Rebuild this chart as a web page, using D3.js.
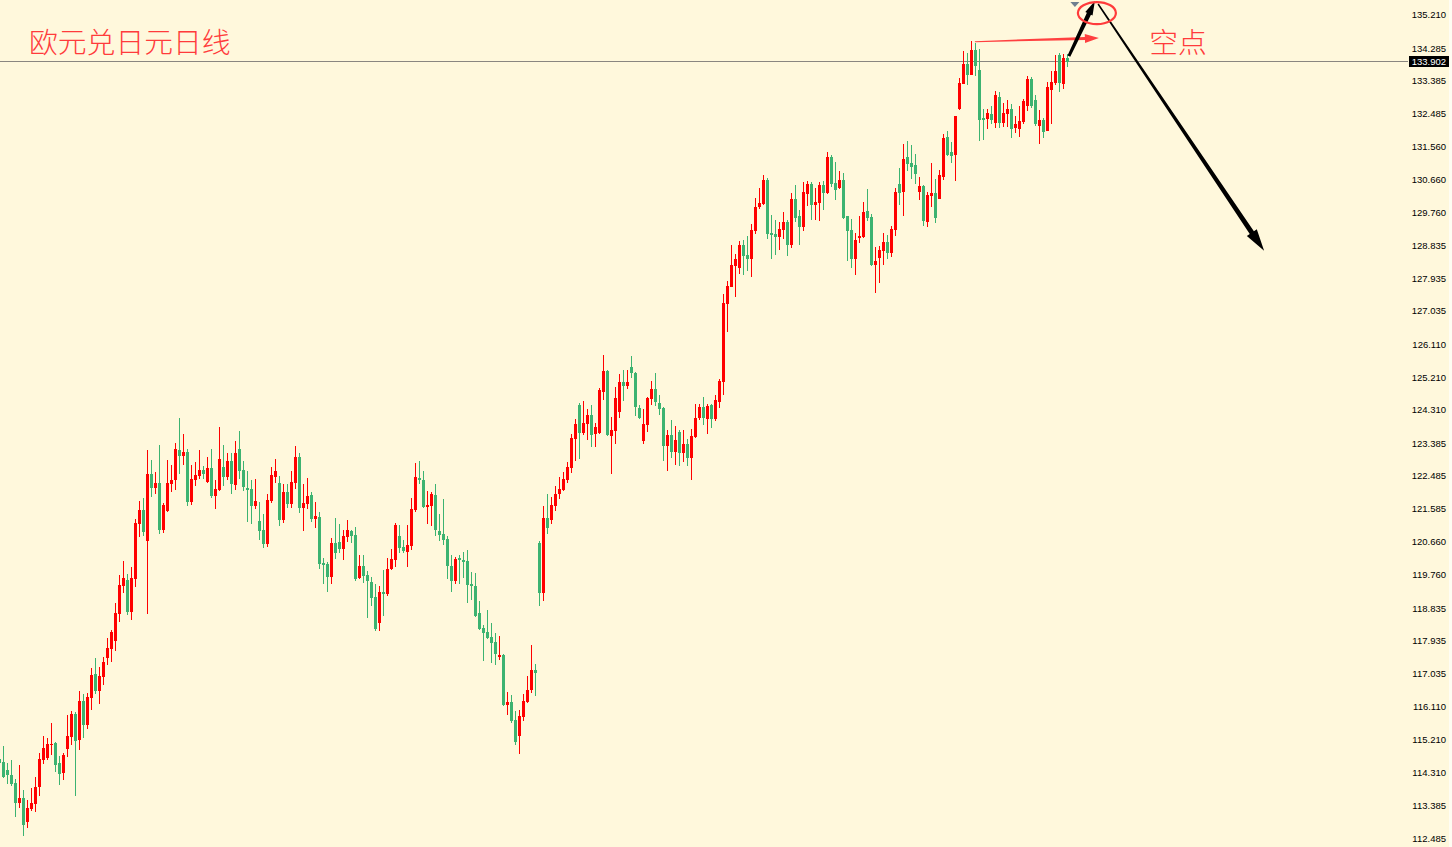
<!DOCTYPE html>
<html><head><meta charset="utf-8">
<script src="https://cdn.jsdelivr.net/npm/d3@7"></script>
<style>html,body{margin:0;padding:0;background:#fff8dc;overflow:hidden}svg{display:block}</style>
</head><body>
<svg id="chart" width="1452" height="847"></svg>
<script>
const title = "欧元兑日元日线";
const noteLabel = "空点";
const lastPrice = 133.902;
const tickValues = [135.210,134.285,133.385,132.485,131.560,130.660,129.760,128.835,127.935,127.035,126.110,125.210,124.310,123.385,122.485,121.585,120.660,119.760,118.835,117.935,117.035,116.110,115.210,114.310,113.385,112.485];

const open = [114.67,114.58,114.37,114.23,114.01,113.46,113.60,112.93,113.29,113.43,113.90,114.64,114.70,115.06,115.12,114.56,114.29,114.95,115.28,115.91,115.20,116.27,115.61,116.36,117.02,116.55,116.93,117.46,117.71,117.93,118.67,119.44,119.61,118.73,119.64,121.16,121.54,120.69,122.53,122.15,122.28,120.99,121.51,122.26,122.37,123.20,123.03,123.14,121.76,122.37,122.48,122.64,122.31,122.70,121.93,122.09,122.73,122.45,122.89,122.23,123.22,122.64,122.15,122.12,121.65,121.24,120.99,120.60,121.79,122.45,122.28,121.27,122.04,121.71,122.28,123.00,121.60,121.71,121.96,121.29,121.35,120.08,120.05,119.70,120.63,120.66,120.46,120.80,120.96,120.85,119.67,120.00,119.75,119.56,119.14,118.42,119.28,119.22,119.91,120.16,120.82,120.52,120.38,120.55,121.54,122.42,122.37,121.62,121.65,121.96,120.96,120.88,120.74,120.00,119.58,120.22,120.16,120.13,119.50,119.44,118.70,118.29,118.18,118.04,117.90,117.49,117.54,116.16,116.25,115.75,115.30,115.83,116.25,116.58,117.13,120.63,119.25,121.32,121.27,121.65,121.98,122.09,122.37,122.70,123.50,124.44,123.67,123.91,124.16,123.64,123.67,124.79,125.37,123.58,123.72,124.25,125.07,124.96,125.48,125.32,124.35,123.44,123.88,124.60,124.88,124.49,124.35,123.31,123.61,123.14,123.69,123.11,123.36,122.97,123.55,124.08,124.38,124.05,124.44,124.05,124.52,125.07,127.22,127.69,128.27,128.22,128.85,128.57,128.46,129.24,129.90,129.98,130.64,129.18,129.16,129.07,129.27,129.48,128.85,130.12,129.65,129.35,130.26,130.53,129.95,130.01,130.51,130.29,131.28,130.56,130.42,130.64,129.65,129.27,128.46,129.04,129.07,129.79,129.62,128.30,128.49,128.68,128.93,128.63,129.27,130.53,130.31,131.28,131.11,131.06,130.31,130.48,129.49,130.20,130.29,130.12,130.73,131.83,131.42,131.33,132.60,133.29,133.84,133.54,134.23,133.68,132.36,132.33,132.47,132.22,132.93,132.22,132.47,132.60,132.08,132.05,132.25,132.69,133.43,132.85,132.14,132.30,131.99,133.13,133.32,134.09,133.29,134.01];
const high = [114.98,115.03,114.56,114.64,114.12,114.50,113.82,113.54,113.87,114.18,114.84,115.30,115.25,115.67,115.14,114.75,114.84,115.88,116.00,115.97,116.55,116.47,116.49,117.18,117.46,117.21,117.49,118.01,118.23,118.98,119.75,120.13,119.78,119.97,121.29,121.79,121.87,123.20,122.92,122.59,123.34,121.73,122.92,122.78,123.39,124.08,123.64,123.22,122.78,122.86,123.20,122.75,123.00,123.22,122.37,123.83,123.34,123.11,123.11,123.44,123.72,122.89,122.62,122.37,122.40,121.76,121.43,121.98,122.73,122.95,122.48,122.26,122.26,122.62,123.31,123.11,122.26,122.42,122.04,121.76,121.49,120.22,120.11,120.77,121.32,121.16,120.99,121.27,120.99,121.07,120.30,120.30,119.86,119.70,119.50,119.44,119.89,120.22,120.46,121.18,121.13,120.71,121.13,121.87,122.84,122.89,122.62,122.06,122.04,122.26,121.43,121.84,120.82,120.30,120.24,120.30,120.38,120.44,119.83,119.81,119.03,118.37,118.78,118.42,118.15,118.07,117.57,116.52,116.44,116.00,116.02,116.47,116.96,117.82,117.29,120.69,121.65,121.98,121.90,122.20,122.45,122.59,122.86,123.64,124.05,124.49,124.55,124.33,124.44,123.94,124.91,125.82,125.40,124.11,124.93,125.29,125.40,125.40,125.79,125.34,124.44,124.33,124.66,125.10,125.32,124.71,124.38,123.75,124.02,123.86,123.75,123.75,123.50,123.77,124.47,124.47,124.66,124.47,124.46,124.71,125.15,127.50,127.86,128.85,128.60,128.96,128.99,129.10,129.43,130.15,130.42,130.78,130.70,129.68,129.54,129.48,129.76,129.54,130.29,130.51,129.82,130.59,130.62,130.59,130.42,130.59,130.62,131.42,131.33,131.14,130.89,130.84,129.66,129.57,129.18,129.65,130.04,130.40,129.71,128.80,128.82,129.18,129.13,129.38,130.42,130.97,131.63,131.72,131.61,131.36,130.73,130.50,130.31,131.11,130.67,130.92,131.91,132.00,131.69,132.41,133.46,134.20,134.15,134.48,134.42,134.26,132.60,132.60,132.69,133.10,133.07,132.77,132.85,132.74,132.41,132.69,132.88,133.51,133.49,132.99,132.58,132.36,133.35,133.65,134.09,134.15,134.12,134.12];
const low = [114.37,114.15,113.98,113.93,113.08,113.32,112.54,112.77,113.24,113.21,113.65,114.53,114.64,114.78,114.31,113.96,114.09,114.73,115.06,113.65,114.92,115.25,115.50,116.02,116.47,116.19,116.71,117.27,117.35,117.65,118.45,119.25,118.64,118.51,119.42,120.80,120.82,118.67,121.90,121.98,120.88,120.91,121.48,122.04,122.09,122.53,122.78,121.65,121.68,122.20,122.40,122.40,122.28,121.87,121.57,122.06,122.20,122.37,121.98,122.09,122.40,122.06,121.21,121.16,121.57,120.71,120.49,120.52,121.73,122.28,121.10,121.18,121.60,121.60,122.12,121.46,120.96,121.57,121.21,121.05,119.91,119.50,119.28,119.50,120.19,120.35,120.16,120.66,120.63,119.58,119.64,119.53,118.56,118.89,118.20,118.20,118.62,119.17,119.89,119.97,120.35,120.35,119.97,120.44,121.49,122.26,121.60,121.16,121.10,120.82,120.69,120.57,119.64,119.28,119.50,119.50,119.67,118.98,119.06,118.59,118.24,117.38,117.98,117.32,117.27,117.40,116.13,115.88,115.67,115.06,114.81,115.72,116.22,116.49,116.41,118.89,119.03,120.88,121.16,121.51,121.85,122.06,122.28,122.56,122.89,122.95,123.61,123.47,123.28,123.28,123.64,124.58,123.58,122.53,123.36,124.08,124.55,124.88,125.18,124.14,124.06,123.36,123.69,124.44,124.41,124.16,122.89,122.62,122.97,122.78,122.75,122.86,122.75,122.37,123.53,124.02,123.88,123.64,123.80,123.99,124.35,124.71,126.45,127.69,127.42,128.05,128.02,128.13,127.97,129.16,129.84,129.95,129.02,128.46,128.57,128.71,129.02,128.55,128.77,129.49,128.85,129.24,129.93,129.54,129.54,129.51,129.82,130.26,130.45,130.09,130.40,129.57,128.41,128.22,128.02,128.90,129.04,129.51,128.27,127.53,127.80,128.30,128.46,128.52,129.10,129.95,129.65,130.89,130.67,130.53,130.09,129.37,129.35,129.90,129.46,130.12,130.64,131.31,131.11,130.62,132.58,133.29,133.26,133.54,133.51,131.72,131.75,132.05,132.19,132.08,132.08,132.11,132.11,131.80,131.94,131.83,132.19,132.55,132.63,132.14,131.64,131.80,131.99,132.19,133.26,133.07,133.15,133.76];
const close = [114.56,114.18,114.23,113.98,113.46,113.60,112.85,113.32,113.46,113.90,114.67,114.98,115.09,115.09,114.50,114.26,114.78,115.30,115.91,115.17,116.27,115.61,116.38,116.99,116.55,116.96,117.35,117.73,118.18,118.70,119.47,119.67,118.73,119.67,121.18,121.54,120.93,122.53,122.15,122.28,120.99,121.68,122.28,122.37,123.22,123.03,123.14,121.76,122.40,122.51,122.64,122.53,122.70,121.93,122.12,122.95,122.45,122.89,122.26,123.11,122.62,122.18,122.09,121.65,121.79,120.96,120.60,121.82,122.51,122.62,121.27,122.04,121.71,122.31,123.00,121.60,121.73,121.93,121.29,121.38,120.05,120.03,119.70,120.63,120.35,120.46,120.82,120.99,120.82,119.64,120.00,119.72,119.58,119.11,118.26,119.28,119.22,119.91,120.19,121.13,120.49,120.41,120.57,121.57,122.45,122.37,121.62,121.68,121.98,120.99,120.85,120.71,120.00,119.58,120.19,120.16,120.11,119.47,119.44,118.62,118.26,118.15,118.01,117.87,117.57,117.54,116.16,116.25,115.72,115.14,115.86,116.27,116.58,117.13,117.04,119.25,121.32,121.05,121.68,121.98,122.12,122.40,122.73,123.53,123.91,123.67,123.94,124.16,123.61,123.83,124.85,125.37,123.61,123.75,124.63,125.07,124.96,125.07,125.32,124.38,124.08,123.91,124.63,124.88,124.52,124.33,123.31,123.61,123.14,123.47,123.11,123.36,122.97,123.58,124.08,124.38,124.08,124.41,124.05,124.58,125.10,127.25,127.72,128.30,128.46,128.85,128.55,128.46,129.27,129.90,130.01,130.64,129.16,129.13,129.07,129.29,129.48,128.85,130.12,129.60,129.35,130.31,130.53,129.95,130.04,130.51,130.29,131.28,130.53,130.37,130.64,129.60,129.24,128.46,128.99,129.10,129.76,129.60,128.30,128.41,128.71,128.93,128.63,129.29,130.31,130.29,131.22,131.09,131.00,130.81,130.48,129.51,130.23,130.29,129.60,130.78,131.80,131.33,131.31,132.41,133.32,133.84,133.54,134.23,133.79,132.30,132.30,132.49,132.30,132.99,132.22,132.49,132.60,132.05,132.19,132.27,132.82,133.43,132.69,132.19,132.30,131.97,133.21,133.35,133.65,133.32,134.01,133.90];

const W = 1452, H = 847;
const UP = "#ff0000", DOWN = "#3cb371";
const svg = d3.select("#chart");
svg.append("rect").attr("width", W).attr("height", H).attr("fill", "#fff8dc");

const n = open.length;
const x = d3.scaleLinear().domain([0, n - 1]).range([-0.7, -0.7 + 4 * (n - 1)]);
const y = d3.scaleLinear().domain([112.485, 135.21]).range([838.3, 14.5]);

const candles = d3.range(n).map(i => ({i, o: open[i], h: high[i], l: low[i], c: close[i]}));

// price line
const py = Math.round(y(lastPrice)) - 0.5;
svg.append("line").attr("x1", 0).attr("x2", 1408).attr("y1", py).attr("y2", py)
  .attr("stroke", "#8a8680").attr("stroke-width", 1);

const g = svg.append("g").attr("shape-rendering", "crispEdges");
const cg = g.selectAll("g.c").data(candles).join("g").attr("class", "c");
cg.append("rect")
  .attr("x", d => Math.floor(x(d.i)))
  .attr("width", 1)
  .attr("y", d => Math.round(y(d.h)))
  .attr("height", d => Math.max(1, Math.round(y(d.l)) - Math.round(y(d.h))))
  .attr("fill", d => d.c >= d.o ? UP : DOWN);
cg.append("rect")
  .attr("x", d => Math.floor(x(d.i)) - 1)
  .attr("width", 3)
  .attr("y", d => Math.round(y(Math.max(d.o, d.c))))
  .attr("height", d => Math.max(1, Math.round(y(Math.min(d.o, d.c))) - Math.round(y(Math.max(d.o, d.c)))))
  .attr("fill", d => d.c >= d.o ? UP : DOWN);

// right axis
svg.append("rect").attr("x", 1449).attr("y", 0).attr("width", 3).attr("height", H).attr("fill", "#fffdf3");
const axis = d3.axisRight(y).tickValues(tickValues).tickFormat(d3.format(".3f")).tickSize(0).tickPadding(0);
const ag = svg.append("g").attr("transform", "translate(1446,0)").call(axis);
ag.select(".domain").remove();
ag.selectAll("text").attr("text-anchor", "end").attr("x", 0)
  .style("font-family", "'Liberation Sans', Arial, sans-serif").style("font-size", "9.5px").attr("fill", "#000");

// last price tag
svg.append("rect").attr("x", 1409).attr("y", py - 5.5).attr("width", 40).attr("height", 11).attr("fill", "#000");
svg.append("text").attr("x", 1446).attr("y", py).attr("dy", "0.35em").attr("text-anchor", "end")
  .style("font-family", "'Liberation Sans', Arial, sans-serif").style("font-size", "9.5px")
  .attr("fill", "#fff").text(d3.format(".3f")(lastPrice));

// annotations
function arrow(p1, p2, w1, w2, hl, hw, color) {
  const [x1, y1] = p1, [x2, y2] = p2;
  const len = Math.hypot(x2 - x1, y2 - y1);
  const ux = (x2 - x1) / len, uy = (y2 - y1) / len;
  const nx = -uy, ny = ux;
  const bx = x2 - ux * hl, by = y2 - uy * hl;
  const pts = [
    [x1 + nx * w1 / 2, y1 + ny * w1 / 2],
    [bx + nx * w2 / 2, by + ny * w2 / 2],
    [bx + nx * hw / 2, by + ny * hw / 2],
    [x2, y2],
    [bx - nx * hw / 2, by - ny * hw / 2],
    [bx - nx * w2 / 2, by - ny * w2 / 2],
    [x1 - nx * w1 / 2, y1 - ny * w1 / 2]
  ];
  svg.append("path").attr("d", d3.line()(pts) + "Z").attr("fill", color);
}
const P = (i, p) => [x(i), y(p)];
arrow(P(243.9, 134.46), P(274.9, 134.56), 1, 3, 14, 9, "#ff4040");
arrow(P(267.4, 134.06), P(273.9, 135.58), 3, 4.5, 14, 8, "#000");
arrow(P(274.7, 135.50), P(316.2, 128.69), 1.5, 5, 22, 12, "#000");

const cc = P(274.4, 135.25);
svg.append("ellipse").attr("cx", cc[0]).attr("cy", cc[1]).attr("rx", 19).attr("ry", 11)
  .attr("fill", "none").attr("stroke", "#ff3b3b").attr("stroke-width", 2.2);

const tri = P(268.9, 135.42);
svg.append("path").attr("d", `M${tri[0]-4.5},${tri[1]-5} L${tri[0]+4.5},${tri[1]-5} L${tri[0]},${tri[1]} Z`).attr("fill", "#6f7f8f");

svg.append("text").attr("x", 29).attr("y", 53)
  .style("font-family", "'Noto Sans CJK SC', sans-serif").style("font-size", "28.8px").style("font-weight", 300)
  .attr("fill", "#ff3b3b").text(title);
const lp = P(287.5, 0);
svg.append("text").attr("x", lp[0]).attr("y", 53)
  .style("font-family", "'Noto Sans CJK SC', sans-serif").style("font-size", "28.8px").style("font-weight", 300)
  .attr("fill", "#ff3b3b").text(noteLabel);
</script>
</body></html>
